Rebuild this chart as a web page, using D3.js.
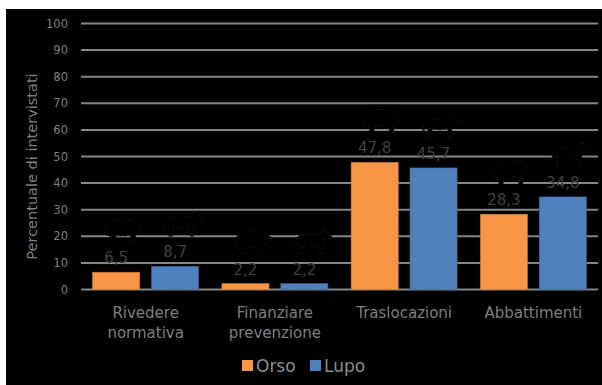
<!DOCTYPE html>
<html lang="it">
<head>
  <meta charset="UTF-8" />
  <title>Percentuale di intervistati</title>
  <style>
    body { margin: 0; background: #fff; }
    svg { display: block; font-family: "DejaVu Sans", sans-serif; }
  </style>
</head>
<body>
  <svg width="602" height="385"></svg>
  <script src="https://cdn.jsdelivr.net/npm/d3@7/dist/d3.min.js"></script>
  <script>
    // data
    const categories = [["Rivedere", "normativa"], ["Finanziare", "prevenzione"], ["Traslocazioni"], ["Abbattimenti"]];
    const series = ["Orso", "Lupo"];
    const orso = [6.5, 2.2, 47.8, 28.3];
    const lupo = [8.7, 2.2, 45.7, 34.8];
    const yTicks = [0, 10, 20, 30, 40, 50, 60, 70, 80, 90, 100];
    const colors = ["#f79646", "#4f81bd"];

    const svg = d3.select("svg");
    const it = d3.formatLocale({ decimal: ",", thousands: ".", grouping: [3], currency: ["€", ""] });
    const fmt = it.format(".1f");

    // black chart area
    svg.append("rect").attr("x", 6).attr("y", 9).attr("width", 596).attr("height", 376).attr("fill", "#000");

    const x0 = d3.scaleBand().domain(d3.range(categories.length)).range([81, 598]);
    const bw = x0.bandwidth();
    const x1 = d3.scaleBand().domain(series).range([bw * 0.09, bw * 0.91]).paddingInner(0.2);
    const y = d3.scaleLinear().domain([0, 100]).range([289.5, 23.5]);

    // gridlines
    svg.append("g").selectAll("line").data(yTicks).join("line")
      .attr("x1", 81).attr("x2", 598)
      .attr("y1", d => y(d)).attr("y2", d => y(d))
      .attr("stroke", "#868686").attr("stroke-width", 2);

    // y tick labels
    svg.append("g").selectAll("text").data(yTicks).join("text")
      .attr("x", 68).attr("y", d => y(d)).attr("dy", "0.35em")
      .attr("text-anchor", "end").attr("font-size", 11.5).attr("fill", "#7f7f7f")
      .text(d => d);

    svg.append("text")
      .attr("transform", `translate(37,${y(50) + 10}) rotate(-90)`)
      .attr("text-anchor", "middle").attr("font-size", 14.5).attr("fill", "#7f7f7f")
      .text("Percentuale di intervistati");

    const rows = [];
    categories.forEach((c, i) => {
      rows.push({ i, s: "Orso", v: orso[i], k: 0 });
      rows.push({ i, s: "Lupo", v: lupo[i], k: 1 });
    });
    const cx = d => x0(d.i) + x1(d.s) + x1.bandwidth() / 2;

    // animal silhouettes (black, barely visible) sitting above the labels
    const bear = "M-18,2 C-18,-8 -8,-12 2,-11 C8,-11 11,-9 13,-7 L17,-6 C19,-5 20,-3 19,-1 L14,1 C13,4 12,6 12,12 L8,12 L7,5 C3,6 -3,6 -7,5 L-8,12 L-12,12 L-13,6 C-17,5 -18,4 -18,2 Z";
    const wolf = "M-17,-2 L-12,-6 C-4,-8 4,-7 9,-8 L12,-14 L13,-10 L15,-13 L16,-8 L21,-5 L20,-3 L14,-3 C12,0 11,4 11,12 L8,12 L7,3 C2,4 -4,4 -8,3 L-10,12 L-13,12 L-13,2 L-18,5 Z";
    svg.append("g").selectAll("path").data(rows).join("path")
      .attr("d", d => d.k === 0 ? bear : wolf)
      .attr("transform", d => `translate(${cx(d) + 7},${y(d.v) - 42})`)
      .attr("fill", "#000").attr("stroke", "#161616").attr("stroke-width", 0.8)
      .attr("stroke-dasharray", "3 2");

    // bars
    svg.append("g").selectAll("rect").data(rows).join("rect")
      .attr("x", d => x0(d.i) + x1(d.s))
      .attr("y", d => y(d.v))
      .attr("width", x1.bandwidth())
      .attr("height", d => y(0) - y(d.v))
      .attr("fill", d => colors[d.k])
      .attr("stroke", d => d3.color(colors[d.k]).darker(0.6)).attr("stroke-width", 0.6);

    // value labels
    svg.append("g").selectAll("text").data(rows).join("text")
      .attr("x", cx).attr("y", d => y(d.v) - 9)
      .attr("text-anchor", "middle").attr("font-size", 15).attr("fill", "#404040")
      .text(d => fmt(d.v));

    // category labels
    const cat = svg.append("g").selectAll("text").data(categories).join("text")
      .attr("text-anchor", "middle").attr("font-size", 15).attr("fill", "#7f7f7f")
      .attr("transform", (d, i) => `translate(${x0(i) + bw / 2},318)`);
    cat.selectAll("tspan").data(d => d).join("tspan")
      .attr("x", 0).attr("dy", (d, j) => j === 0 ? 0 : 20)
      .text(d => d);

    // legend
    const leg = svg.append("g").selectAll("g").data(series).join("g")
      .attr("transform", (d, i) => `translate(${i === 0 ? 242 : 310},360)`);
    leg.append("rect").attr("width", 11).attr("height", 11)
      .attr("fill", (d, i) => colors[i]);
    leg.append("text").attr("x", 14).attr("y", 12).attr("font-size", 17).attr("fill", "#8c8c8c")
      .text(d => d);
  </script>
</body>
</html>
